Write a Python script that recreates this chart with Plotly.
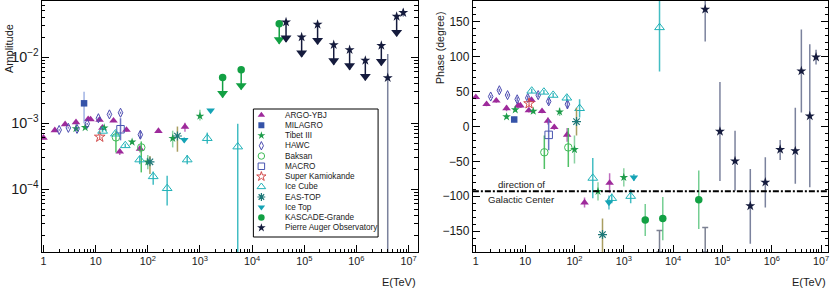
import plotly.graph_objects as go

W, H = 830, 289

# ------------------------------------------------------------------ data
# ARGO-YBJ
argo_E = [1.0, 1.65, 2.6, 4.2, 7.2, 8.0, 11.9, 13.5, 22, 29, 39, 71, 160, 516]
argo_A = [6.0e-4, 7.8e-4, 9.6e-4, 1.03e-3, 1.15e-3, 1.14e-3, 1.12e-3, 8.5e-4, 1.09e-3, 3.7e-4, 7.9e-4, 4.1e-4, 7.6e-4, 8.8e-4]
argo_Aerr = [3e-5, 3e-5, 4e-5, 7e-5, 5e-5, 5e-5, 5e-5, 5e-5, 5e-5, 4e-5, 5e-5, 5e-5, 5e-5, 1.4e-4]
argo_P = [42, 32, 37, 26, 30, 30, 23, 38, 22, 8, -1, -12, -109, -81]
argo_Perr = [3, 3, 3, 4, 3, 3, 3, 3, 3, 5, 4, 10, 7, 14]
# MILAGRO
milagro_E = [6.0]
milagro_A = [2.0e-3]
milagro_Aerr = [1.0e-3]
milagro_P = [10]
milagro_Perr = [4]
# Tibet III
tibet_E = [4.2, 6.3, 14.6, 50, 100, 300, 1000]
tibet_A = [8.3e-4, 8.6e-4, 8.5e-4, 5.2e-4, 2.6e-4, 5.9e-4, 1.28e-3]
tibet_Aerr_p = [3e-5, 3e-5, 3e-5, 3e-5, 7e-5, 1.8e-4, 3.2e-4]
tibet_Aerr_m = [3e-5, 3e-5, 3e-5, 3e-5, 6e-5, 1.6e-4, 1.8e-4]
tibet_P = [14, 24, 22, 21, -33, -93, -73]
tibet_Perr = [3, 3, 3, 6, 20, 13, 13]
# HAWC
hawc_E = [2.0, 3.0, 4.4, 6.9, 11.3, 18.4, 30, 72]
hawc_A = [7.9e-4, 8.5e-4, 8.2e-4, 9.8e-4, 1.19e-3, 1.36e-3, 1.44e-3, 6.7e-4]
hawc_Aerr = [2e-5, 2e-5, 2e-5, 3e-5, 3e-5, 4e-5, 5e-5, 9e-5]
hawc_P = [43, 52, 45, 39, 41, 45, 36, 32]
hawc_Perr = [2, 2, 2, 3, 3, 3, 4, 7]
# Baksan
baksan_E = [24.5, 75]
baksan_A = [6.1e-4, 4.3e-4]
baksan_Aerr_p = [1.6e-4, 1.0e-4]
baksan_Aerr_m = [2.5e-4, 2.5e-4]
baksan_P = [-37, -30]
baksan_Perr = [24, 28]
# MACRO
macro_E = [30]
macro_A = [8.1e-4]
macro_Aerr_p = [3.8e-4]
macro_Aerr_m = [2.6e-4]
macro_P = [-12]
macro_Perr = [22]
# Super Kamiokande
sk_E = [12]
sk_A = [6.2e-4]
sk_Aerr = [6e-5]
sk_P = [33]
sk_Perr = [5]
# IceCube
ic_E = [13.6, 24, 37, 70, 127, 235, 570, 1380, 5300]
ic_A = [7.6e-4, 6.9e-4, 4.6e-4, 2.8e-4, 1.56e-4, 1.03e-4, 2.8e-4, 5.9e-4, 4.4e-4]
ic_Aerr_p = [3e-5, 3e-5, 3e-5, 4e-5, 3.0e-5, 5.7e-5, 5e-5, 1.3e-4, 5.4e-4]
ic_Aerr_m = [3e-5, 3e-5, 3e-5, 4e-5, 3.9e-5, 4.6e-5, 4e-5, 1.0e-4, 4.39e-4]
ic_P = [51, 49.5, 45, 41, 26, -74, -103, -100, 142]
ic_Perr_p = [3, 3, 3, 4, 13, 29, 7, 10, 80]
ic_Perr_m = [3, 3, 3, 4, 13, 29, 7, 10, 63]
# EAS-TOP
eas_E = [110, 370]
eas_A = [2.6e-4, 6.4e-4]
eas_Aerr_p = [6e-5, 2.5e-4]
eas_Aerr_m = [9e-5, 2.7e-4]
eas_P = [7, -155]
eas_Perr_p = [20, 23]
eas_Perr_m = [20, 30]
# Ice Top
it_E = [500, 1600]
it_A = [5.6e-4, 1.56e-3]
it_Aerr = [5e-5, 5e-5]
it_P = [-109, -73]
it_Perr = [10, 5]
# KASCADE-Grande (amplitude: upper limits)
kg_E = [2720, 6170, 33100]
kg_A = [4.9e-3, 6.45e-3, 3.2e-2]
kg_P = [-134, -132, -105]
kg_Perr = [23, 31, 42]
# Pierre Auger Observatory
pao_E = [4.47e4, 8.9e4, 1.8e5, 3.67e5, 7.4e5, 1.48e6, 3.0e6, 3.98e6, 5.9e6, 7.9e6]
pao_A = [3.39e-2, 2.01e-2, 3.13e-2, 1.54e-2, 1.29e-2, 8.9e-3, 1.50e-2, 4.87e-3, 4.14e-2, 4.71e-2]
pao_UL = [1, 1, 1, 1, 1, 1, 1, 0, 1, 0]
pao_Aerr_p = [0, 0, 0, 0, 0, 0, 0, 6.3e-3, 0, 7e-3]
pao_Aerr_m = [0, 0, 0, 0, 0, 0, 0, 4.869e-3, 0, 6e-3]
pao_P = [168, -7, -49.5, -114, -80, -33, -35, 79.5, 15, 99.5]
pao_Perr_p = [60, 71, 43.5, 53, 36, 13.5, 62, 59.5, 103, 10.5]
pao_Perr_m = [46, 71, 42.5, 54, 36, 15, 47, 59.5, 102, 10.5]
# phase error bars wrapping around -180
wrap_E = [5300, 4.47e4]
wrap_len = [31, 35]

GC_phase = -93

legend_names = ["ARGO-YBJ", "MILAGRO", "Tibet III", "HAWC", "Baksan", "MACRO",
                "Super Kamiokande", "Ice Cube", "EAS-TOP", "Ice Top",
                "KASCADE-Grande", "Pierre Auger Observatory"]

# ------------------------------------------------------------------ styles
STY = {
    "ARGO-YBJ": dict(symbol="triangle-up", color="#9e2a9b", ecolor="rgba(170,60,170,0.75)", size=7.5, lw=0),
    "MILAGRO": dict(symbol="square", color="#3553a8", ecolor="rgba(120,145,215,0.7)", size=6.5, lw=0),
    "Tibet III": dict(symbol="star", color="#1e9c4a", ecolor="rgba(60,180,100,0.6)", size=6.5, lw=0),
    "HAWC": dict(symbol="diamond-tall-open", color="#4b4bb0", ecolor="rgba(75,75,176,0.8)", size=6.5, lw=1),
    "Baksan": dict(symbol="circle-open", color="#3dba55", ecolor="rgba(61,186,85,0.9)", size=7.5, lw=1),
    "MACRO": dict(symbol="square-open", color="#4855b0", ecolor="rgba(90,100,190,0.9)", size=7.5, lw=1),
    "Super Kamiokande": dict(symbol="star-open", color="#d24a4a", ecolor="rgba(210,74,74,0.7)", size=8, lw=1),
    "Ice Cube": dict(symbol="triangle-up-open", color="#22b2b8", ecolor="rgba(34,178,184,0.85)", size=8.5, lw=1),
    "EAS-TOP": dict(symbol="asterisk-open", color="#1e7878", ecolor="rgba(160,148,80,0.9)", size=7.5, lw=1.2),
    "Ice Top": dict(symbol="triangle-down", color="#15a3b5", ecolor="rgba(21,163,181,0.7)", size=7.5, lw=0),
    "KASCADE-Grande": dict(symbol="circle", color="#12a043", ecolor="rgba(70,190,110,0.75)", size=7.5, lw=0),
    "Pierre Auger Observatory": dict(symbol="star", color="#151b3d", ecolor="rgba(100,108,140,0.85)", size=7.5, lw=0),
}

fig = go.Figure()


def err(arr_p, arr_m, color):
    return dict(type="data", symmetric=False, array=arr_p, arrayminus=arr_m,
                color=color, thickness=1.5, width=0)


def mk(name):
    s = STY[name]
    return dict(symbol=s["symbol"], color=s["color"], size=s["size"],
                line=dict(color=s["color"], width=s["lw"]))


def add_pts(name, E, y, ep, em, panel):
    s = STY[name]
    xa, ya = ("x", "y") if panel == 1 else ("x2", "y2")
    fig.add_trace(go.Scatter(x=E, y=y, mode="markers", xaxis=xa, yaxis=ya,
                             marker=mk(name), error_y=err(ep, em, s["ecolor"]),
                             showlegend=False, name=name))


# amplitude panel
add_pts("ARGO-YBJ", argo_E, argo_A, argo_Aerr, argo_Aerr, 1)
add_pts("MILAGRO", milagro_E, milagro_A, milagro_Aerr, milagro_Aerr, 1)
add_pts("Tibet III", tibet_E, tibet_A, tibet_Aerr_p, tibet_Aerr_m, 1)
add_pts("HAWC", hawc_E, hawc_A, hawc_Aerr, hawc_Aerr, 1)
add_pts("Baksan", baksan_E, baksan_A, baksan_Aerr_p, baksan_Aerr_m, 1)
add_pts("MACRO", macro_E, macro_A, macro_Aerr_p, macro_Aerr_m, 1)
add_pts("Super Kamiokande", sk_E, sk_A, sk_Aerr, sk_Aerr, 1)
add_pts("Ice Cube", ic_E, ic_A, ic_Aerr_p, ic_Aerr_m, 1)
add_pts("EAS-TOP", eas_E, eas_A, eas_Aerr_p, eas_Aerr_m, 1)
add_pts("Ice Top", it_E, it_A, it_Aerr, it_Aerr, 1)

# upper-limit arrows (style: arrow spans ~0.3 decade)
ARROW_TIP = 0.50
ARROW_HEAD = 0.575


def add_ul(name, E, A):
    s = STY[name]
    col = s["color"]
    fig.add_trace(go.Scatter(x=E, y=A, mode="markers", xaxis="x", yaxis="y",
                             marker=dict(size=0.1, color=col, opacity=0),
                             error_y=err([0] * len(A), [a * (1 - ARROW_TIP) for a in A], col),
                             showlegend=False, hoverinfo="skip"))
    fig.add_trace(go.Scatter(x=E, y=[a * ARROW_HEAD for a in A], mode="markers", xaxis="x", yaxis="y",
                             marker=dict(symbol="triangle-down", size=9.5, color=col),
                             showlegend=False, hoverinfo="skip"))
    fig.add_trace(go.Scatter(x=E, y=A, mode="markers", xaxis="x", yaxis="y",
                             marker=mk(name), showlegend=False, name=name))


add_ul("KASCADE-Grande", kg_E, kg_A)
ulE = [e for e, f in zip(pao_E, pao_UL) if f]
ulA = [a for a, f in zip(pao_A, pao_UL) if f]
add_ul("Pierre Auger Observatory", ulE, ulA)
mE = [e for e, f in zip(pao_E, pao_UL) if not f]
mA = [a for a, f in zip(pao_A, pao_UL) if not f]
mEp = [a for a, f in zip(pao_Aerr_p, pao_UL) if not f]
mEm = [a for a, f in zip(pao_Aerr_m, pao_UL) if not f]
add_pts("Pierre Auger Observatory", mE, mA, mEp, mEm, 1)

# phase panel
fig.add_trace(go.Scatter(x=wrap_E, y=[-180, -180], mode="markers", xaxis="x2", yaxis="y2",
                         marker=dict(size=0.1, opacity=0),
                         error_y=dict(type="data", symmetric=False, array=wrap_len, arrayminus=[0, 0],
                                      color="rgba(110,115,135,0.9)", thickness=1.5, width=3),
                         showlegend=False, hoverinfo="skip"))
add_pts("ARGO-YBJ", argo_E, argo_P, argo_Perr, argo_Perr, 2)
add_pts("MILAGRO", milagro_E, milagro_P, milagro_Perr, milagro_Perr, 2)
add_pts("Tibet III", tibet_E, tibet_P, tibet_Perr, tibet_Perr, 2)
add_pts("HAWC", hawc_E, hawc_P, hawc_Perr, hawc_Perr, 2)
add_pts("Baksan", baksan_E, baksan_P, baksan_Perr, baksan_Perr, 2)
add_pts("MACRO", macro_E, macro_P, macro_Perr, macro_Perr, 2)
add_pts("Super Kamiokande", sk_E, sk_P, sk_Perr, sk_Perr, 2)
add_pts("Ice Cube", ic_E, ic_P, ic_Perr_p, ic_Perr_m, 2)
add_pts("EAS-TOP", eas_E, eas_P, eas_Perr_p, eas_Perr_m, 2)
add_pts("Ice Top", it_E, it_P, it_Perr, it_Perr, 2)
add_pts("KASCADE-Grande", kg_E, kg_P, kg_Perr, kg_Perr, 2)
add_pts("Pierre Auger Observatory", pao_E, pao_P, pao_Perr_p, pao_Perr_m, 2)

# legend markers (drawn in a hidden pixel-coordinate subplot)
LX0, LX1, LY0, LY1 = 253, 378, 109, 237
leg_y = [115 + i * 10.25 for i in range(len(legend_names))]
for nm, yy in zip(legend_names, leg_y):
    m = mk(nm)
    m["size"] = max(m["size"] - 1, 6)
    fig.add_trace(go.Scatter(x=[261], y=[yy], mode="markers", xaxis="x3", yaxis="y3",
                             marker=m, showlegend=False, hoverinfo="skip"))

FONT = "Liberation Sans, Arial, Helvetica, sans-serif"
TXT = "#1a1a1a"

ann = []
for nm, yy in zip(legend_names, leg_y):
    ann.append(dict(x=283, y=yy, xref="x3", yref="y3", text=nm, showarrow=False,
                    xanchor="left", yanchor="middle", font=dict(family=FONT, size=8.2, color=TXT)))

ann += [
    dict(x=8 / W, y=1 - 48 / H, xref="paper", yref="paper", text="Amplitude", textangle=-90,
         showarrow=False, xanchor="center", yanchor="middle", font=dict(family=FONT, size=11, color=TXT)),
    dict(x=440 / W, y=1 - 48 / H, xref="paper", yref="paper", text="Phase (degree)", textangle=-90,
         showarrow=False, xanchor="center", yanchor="middle", font=dict(family=FONT, size=10.5, color=TXT)),
    dict(x=418 / W, y=1 - 282 / H, xref="paper", yref="paper", text="E(TeV)", showarrow=False,
         xanchor="right", yanchor="middle", font=dict(family=FONT, size=11, color=TXT)),
    dict(x=829 / W, y=1 - 282 / H, xref="paper", yref="paper", text="E(TeV)", showarrow=False,
         xanchor="right", yanchor="middle", font=dict(family=FONT, size=11, color=TXT)),
    dict(x=522 / W, y=1 - 184 / H, xref="paper", yref="paper", text="direction of", showarrow=False,
         xanchor="center", yanchor="middle", font=dict(family=FONT, size=9.6, color=TXT)),
    dict(x=522 / W, y=1 - 200 / H, xref="paper", yref="paper", text="Galactic Center", showarrow=False,
         xanchor="center", yanchor="middle", font=dict(family=FONT, size=9.6, color=TXT)),
]

shapes = [
    dict(type="rect", xref="paper", yref="paper", x0=LX0 / W, x1=LX1 / W, y0=1 - LY1 / H, y1=1 - LY0 / H,
         line=dict(color="black", width=1), fillcolor="rgba(0,0,0,0)", layer="above"),
    dict(type="line", xref="x2 domain", yref="y2", x0=0, x1=1, y0=GC_phase, y1=GC_phase,
         line=dict(color="black", width=2, dash="6px,2px,2px,2px")),
]

YDOM = [37 / H, 288 / H]
common = dict(showline=True, linecolor="black", linewidth=1, showgrid=False,
              zeroline=False, ticks="inside", ticklen=7, tickwidth=1, tickcolor="black")
minor_log = dict(ticks="inside", ticklen=3.5, tickwidth=1, tickcolor="black", dtick="D1", showgrid=False)

fig.update_layout(
    width=W, height=H, margin=dict(l=0, r=0, t=0, b=0),
    paper_bgcolor="white", plot_bgcolor="rgba(0,0,0,0)",
    showlegend=False,
    font=dict(family=FONT, color=TXT),
    xaxis=dict(type="log", range=[-0.03, 7.18], domain=[41 / W, 418 / W], anchor="y", dtick=1,
               exponentformat="power", tickfont=dict(size=8.6, color=TXT), minor=minor_log,
               mirror=True, ticklabeloverflow="allow", **common),
    yaxis=dict(type="log", range=[-4.95, -1.15], domain=YDOM, anchor="x", dtick=1,
               exponentformat="power", tickfont=dict(size=11.5, color=TXT), minor=minor_log,
               mirror="ticks", **common),
    xaxis2=dict(type="log", range=[-0.06, 7.14], domain=[473 / W, 829 / W], anchor="y2", dtick=1,
                exponentformat="power", tickfont=dict(size=8.6, color=TXT), minor=minor_log,
                mirror=True, ticklabeloverflow="allow", **common),
    yaxis2=dict(range=[-180, 180], domain=YDOM, anchor="x2", dtick=50, tick0=0,
                tickfont=dict(size=12, color=TXT),
                minor=dict(ticks="inside", ticklen=3.5, tickwidth=1, tickcolor="black", dtick=10, showgrid=False),
                mirror="ticks", **common),
    xaxis3=dict(range=[LX0, LX1], domain=[LX0 / W, LX1 / W], anchor="y3", visible=False, fixedrange=True),
    yaxis3=dict(range=[LY1, LY0], domain=[1 - LY1 / H, 1 - LY0 / H], anchor="x3", visible=False, fixedrange=True),
    annotations=ann,
    shapes=shapes,
)

fig.write_html("out.html", config={"displayModeBar": False},
               post_script="document.body.style.margin='0';document.body.style.overflow='hidden';")
